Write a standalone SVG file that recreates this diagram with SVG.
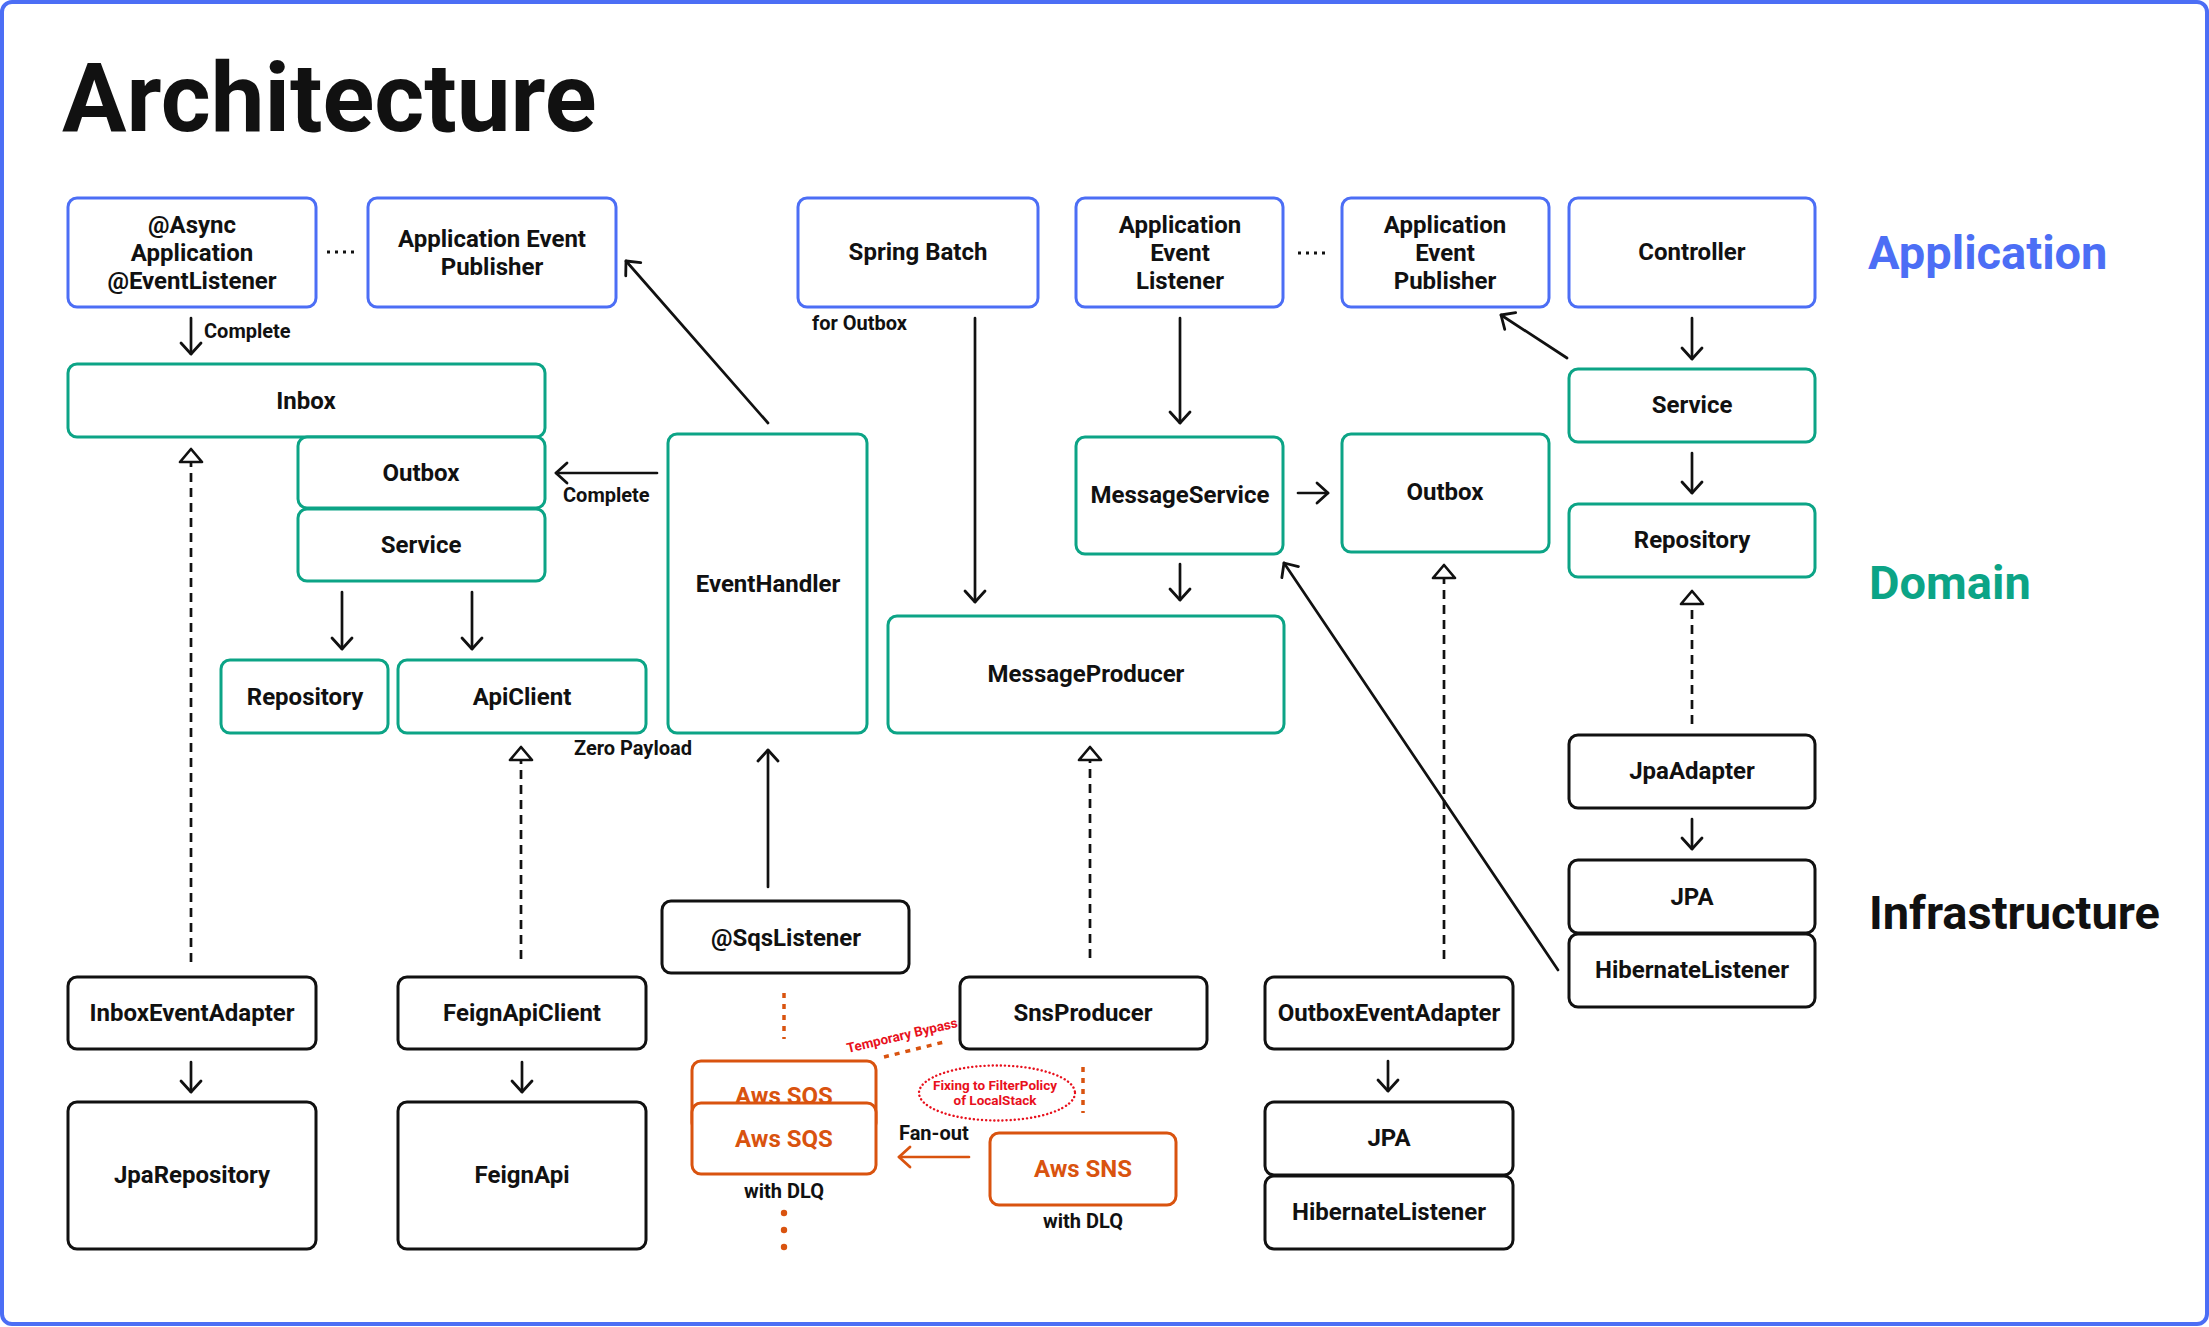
<svg xmlns="http://www.w3.org/2000/svg" width="2209" height="1327" viewBox="0 0 2209 1327">
<style>
text{font-family:Roboto,"Liberation Sans",sans-serif;font-weight:700;fill:#111}
.n{font-size:24px;text-anchor:middle}
.s{font-size:20px}
.big{font-size:47px}
.b rect{fill:#fff;stroke:#4c6ef5;stroke-width:3}
.g rect{fill:#fff;stroke:#0ca486;stroke-width:3}
.k rect{fill:#fff;stroke:#111;stroke-width:3}
.o rect{fill:#fff;stroke:#d9530f;stroke-width:3}
.o text{fill:#d9530f}
.ln{fill:none;stroke:#111;stroke-width:2.7;stroke-linecap:round}
.ds{fill:none;stroke:#111;stroke-width:2.7;stroke-dasharray:9 6}
.dt{fill:none;stroke:#111;stroke-width:3;stroke-dasharray:3 5}
.od{fill:none;stroke:#d9530f;stroke-width:3.5;stroke-dasharray:5 6}
.red{fill:#e8101c;font-size:13.5px}
</style>
<defs>
<marker id="ar" markerUnits="userSpaceOnUse" markerWidth="30" markerHeight="30" viewBox="-15 -15 30 30" refX="0" refY="0" orient="auto"><path d="M-11,-10 L0,0 L-11,10" fill="none" stroke="#111" stroke-width="2.8" stroke-linecap="round" stroke-linejoin="round"/></marker>
<marker id="aro" markerUnits="userSpaceOnUse" markerWidth="30" markerHeight="30" viewBox="-15 -15 30 30" refX="0" refY="0" orient="auto"><path d="M-11,-10 L0,0 L-11,10" fill="none" stroke="#d9530f" stroke-width="2.8" stroke-linecap="round" stroke-linejoin="round"/></marker>
<marker id="tri" markerUnits="userSpaceOnUse" markerWidth="34" markerHeight="34" viewBox="-17 -17 34 34" refX="0" refY="0" orient="auto"><path d="M0,0 L-13,-11 L-13,11 Z" fill="#fff" stroke="#111" stroke-width="2.7" stroke-linejoin="round"/></marker>
</defs>
<rect x="2" y="2" width="2205" height="1322" rx="10" fill="#fff" stroke="#4c6ef5" stroke-width="4"/>
<text x="62" y="131" style="font-size:96px">Architecture</text>
<text class="big" x="1868" y="269" style="fill:#4c6ef5">Application</text>
<text class="big" x="1869" y="599" style="fill:#0ca486">Domain</text>
<text class="big" x="1869" y="929">Infrastructure</text>

<g id="connectors">
<path class="ln" d="M191,318 V354" marker-end="url(#ar)"/>
<text class="s" x="204" y="338">Complete</text>
<path class="dt" d="M327,252 H357"/>
<path class="ln" d="M768,423 L626,261" marker-end="url(#ar)"/>
<path class="ln" d="M657,473 H556" marker-end="url(#ar)"/>
<text class="s" x="563" y="502">Complete</text>
<path class="ln" d="M342,592 V649" marker-end="url(#ar)"/>
<path class="ln" d="M472,592 V649" marker-end="url(#ar)"/>
<path class="ds" d="M191,962 V449" marker-end="url(#tri)"/>
<path class="ds" d="M521,959 V747" marker-end="url(#tri)"/>
<text class="s" x="574" y="755">Zero Payload</text>
<path class="ln" d="M975,318 V602" marker-end="url(#ar)"/>
<text class="s" x="812" y="330">for Outbox</text>
<path class="ln" d="M1180,318 V423" marker-end="url(#ar)"/>
<path class="ln" d="M1180,564 V600" marker-end="url(#ar)"/>
<path class="ln" d="M768,887 V750" marker-end="url(#ar)"/>
<path class="ds" d="M1090,958 V747" marker-end="url(#tri)"/>
<path class="ln" d="M1298,493 H1328" marker-end="url(#ar)"/>
<path class="dt" d="M1298,253 H1327"/>
<path class="ln" d="M1567,358 L1501,315" marker-end="url(#ar)"/>
<path class="ln" d="M1692,318 V359" marker-end="url(#ar)"/>
<path class="ln" d="M1692,453 V493" marker-end="url(#ar)"/>
<path class="ds" d="M1444,959 V565" marker-end="url(#tri)"/>
<path class="ds" d="M1692,724 V591" marker-end="url(#tri)"/>
<path class="ln" d="M1692,819 V849" marker-end="url(#ar)"/>
<path class="ln" d="M1558,970 L1284,563" marker-end="url(#ar)"/>
<path class="ln" d="M191,1062 V1092" marker-end="url(#ar)"/>
<path class="ln" d="M522,1062 V1092" marker-end="url(#ar)"/>
<path class="ln" d="M1388,1061 V1091" marker-end="url(#ar)"/>
<path class="od" d="M784,993 V1039"/>
<path class="od" d="M884,1057 L948,1041"/>
<path class="od" d="M1083,1067 V1113"/>
<path d="M969,1157 H899" fill="none" stroke="#d9530f" stroke-width="2.7" stroke-linecap="round" marker-end="url(#aro)"/>
<text class="s" x="899" y="1140">Fan-out</text>
<g fill="#d9530f"><circle cx="784" cy="1213" r="3.2"/><circle cx="784" cy="1230" r="3.2"/><circle cx="784" cy="1247" r="3.2"/></g>
<text class="red" x="0" y="0" transform="translate(848,1053) rotate(-13.3)">Temporary Bypass</text>
<ellipse cx="997" cy="1093" rx="78" ry="27.5" fill="none" stroke="#e8101c" stroke-width="2.4" stroke-linecap="round" stroke-dasharray="0.1 4"/>
<text class="red" x="995" y="1090" text-anchor="middle">Fixing to FilterPolicy</text>
<text class="red" x="995" y="1105" text-anchor="middle">of LocalStack</text>
</g>

<g id="async" class="b"><rect x="68" y="198" width="248" height="109" rx="9"/><text class="n" x="192" y="233">@Async</text><text class="n" x="192" y="261">Application</text><text class="n" x="192" y="289">@EventListener</text></g>
<g id="aep1" class="b"><rect x="368" y="198" width="248" height="109" rx="9"/><text class="n" x="492" y="247">Application Event</text><text class="n" x="492" y="275">Publisher</text></g>
<g id="springbatch" class="b"><rect x="798" y="198" width="240" height="109" rx="9"/><text class="n" x="918" y="260">Spring Batch</text></g>
<g id="ael" class="b"><rect x="1076" y="198" width="207" height="109" rx="9"/><text class="n" x="1180" y="233">Application</text><text class="n" x="1180" y="261">Event</text><text class="n" x="1180" y="289">Listener</text></g>
<g id="aep2" class="b"><rect x="1342" y="198" width="207" height="109" rx="9"/><text class="n" x="1445" y="233">Application</text><text class="n" x="1445" y="261">Event</text><text class="n" x="1445" y="289">Publisher</text></g>
<g id="controller" class="b"><rect x="1569" y="198" width="246" height="109" rx="9"/><text class="n" x="1692" y="260">Controller</text></g>

<g id="inbox" class="g"><rect x="68" y="364" width="477" height="73" rx="9"/><text class="n" x="306" y="409">Inbox</text></g>
<g id="outbox1" class="g"><rect x="298" y="437" width="247" height="71" rx="9"/><text class="n" x="421" y="481">Outbox</text></g>
<g id="service1" class="g"><rect x="298" y="509" width="247" height="72" rx="9"/><text class="n" x="421" y="553">Service</text></g>
<g id="repo1" class="g"><rect x="221" y="660" width="167" height="73" rx="9"/><text class="n" x="305" y="705">Repository</text></g>
<g id="apiclient" class="g"><rect x="398" y="660" width="248" height="73" rx="9"/><text class="n" x="522" y="705">ApiClient</text></g>
<g id="eventhandler" class="g"><rect x="668" y="434" width="199" height="299" rx="9"/><text class="n" x="768" y="592">EventHandler</text></g>
<g id="msgservice" class="g"><rect x="1076" y="437" width="207" height="117" rx="9"/><text class="n" x="1180" y="503">MessageService</text></g>
<g id="msgproducer" class="g"><rect x="888" y="616" width="396" height="117" rx="9"/><text class="n" x="1086" y="682">MessageProducer</text></g>
<g id="outbox2" class="g"><rect x="1342" y="434" width="207" height="118" rx="9"/><text class="n" x="1445" y="500">Outbox</text></g>
<g id="service2" class="g"><rect x="1569" y="369" width="246" height="73" rx="9"/><text class="n" x="1692" y="413">Service</text></g>
<g id="repo2" class="g"><rect x="1569" y="504" width="246" height="73" rx="9"/><text class="n" x="1692" y="548">Repository</text></g>

<g id="sqslistener" class="k"><rect x="662" y="901" width="247" height="72" rx="9"/><text class="n" x="786" y="946">@SqsListener</text></g>
<g id="inboxeventadapter" class="k"><rect x="68" y="977" width="248" height="72" rx="9"/><text class="n" x="192" y="1021">InboxEventAdapter</text></g>
<g id="feignapiclient" class="k"><rect x="398" y="977" width="248" height="72" rx="9"/><text class="n" x="522" y="1021">FeignApiClient</text></g>
<g id="jparepository" class="k"><rect x="68" y="1102" width="248" height="147" rx="9"/><text class="n" x="192" y="1183">JpaRepository</text></g>
<g id="feignapi" class="k"><rect x="398" y="1102" width="248" height="147" rx="9"/><text class="n" x="522" y="1183">FeignApi</text></g>
<g id="snsproducer" class="k"><rect x="960" y="977" width="247" height="72" rx="9"/><text class="n" x="1083" y="1021">SnsProducer</text></g>
<g id="outboxeventadapter" class="k"><rect x="1265" y="977" width="248" height="72" rx="9"/><text class="n" x="1389" y="1021">OutboxEventAdapter</text></g>
<g id="jpa2" class="k"><rect x="1265" y="1102" width="248" height="73" rx="9"/><text class="n" x="1389" y="1146">JPA</text></g>
<g id="hibernate2" class="k"><rect x="1265" y="1176" width="248" height="73" rx="9"/><text class="n" x="1389" y="1220">HibernateListener</text></g>
<g id="jpaadapter" class="k"><rect x="1569" y="735" width="246" height="73" rx="9"/><text class="n" x="1692" y="779">JpaAdapter</text></g>
<g id="jpa1" class="k"><rect x="1569" y="860" width="246" height="73" rx="9"/><text class="n" x="1692" y="905">JPA</text></g>
<g id="hibernate1" class="k"><rect x="1569" y="934" width="246" height="73" rx="9"/><text class="n" x="1692" y="978">HibernateListener</text></g>

<g id="sqs-back" class="o"><rect x="692" y="1061" width="184" height="71" rx="9"/><text class="n" x="784" y="1104">Aws SQS</text></g>
<g id="sqs-front" class="o"><rect x="692" y="1103" width="184" height="71" rx="9"/><text class="n" x="784" y="1147">Aws SQS</text></g>
<text class="s" x="784" y="1198" text-anchor="middle">with DLQ</text>
<g id="sns" class="o"><rect x="990" y="1133" width="186" height="72" rx="9"/><text class="n" x="1083" y="1177">Aws SNS</text></g>
<text class="s" x="1083" y="1228" text-anchor="middle">with DLQ</text>
</svg>
